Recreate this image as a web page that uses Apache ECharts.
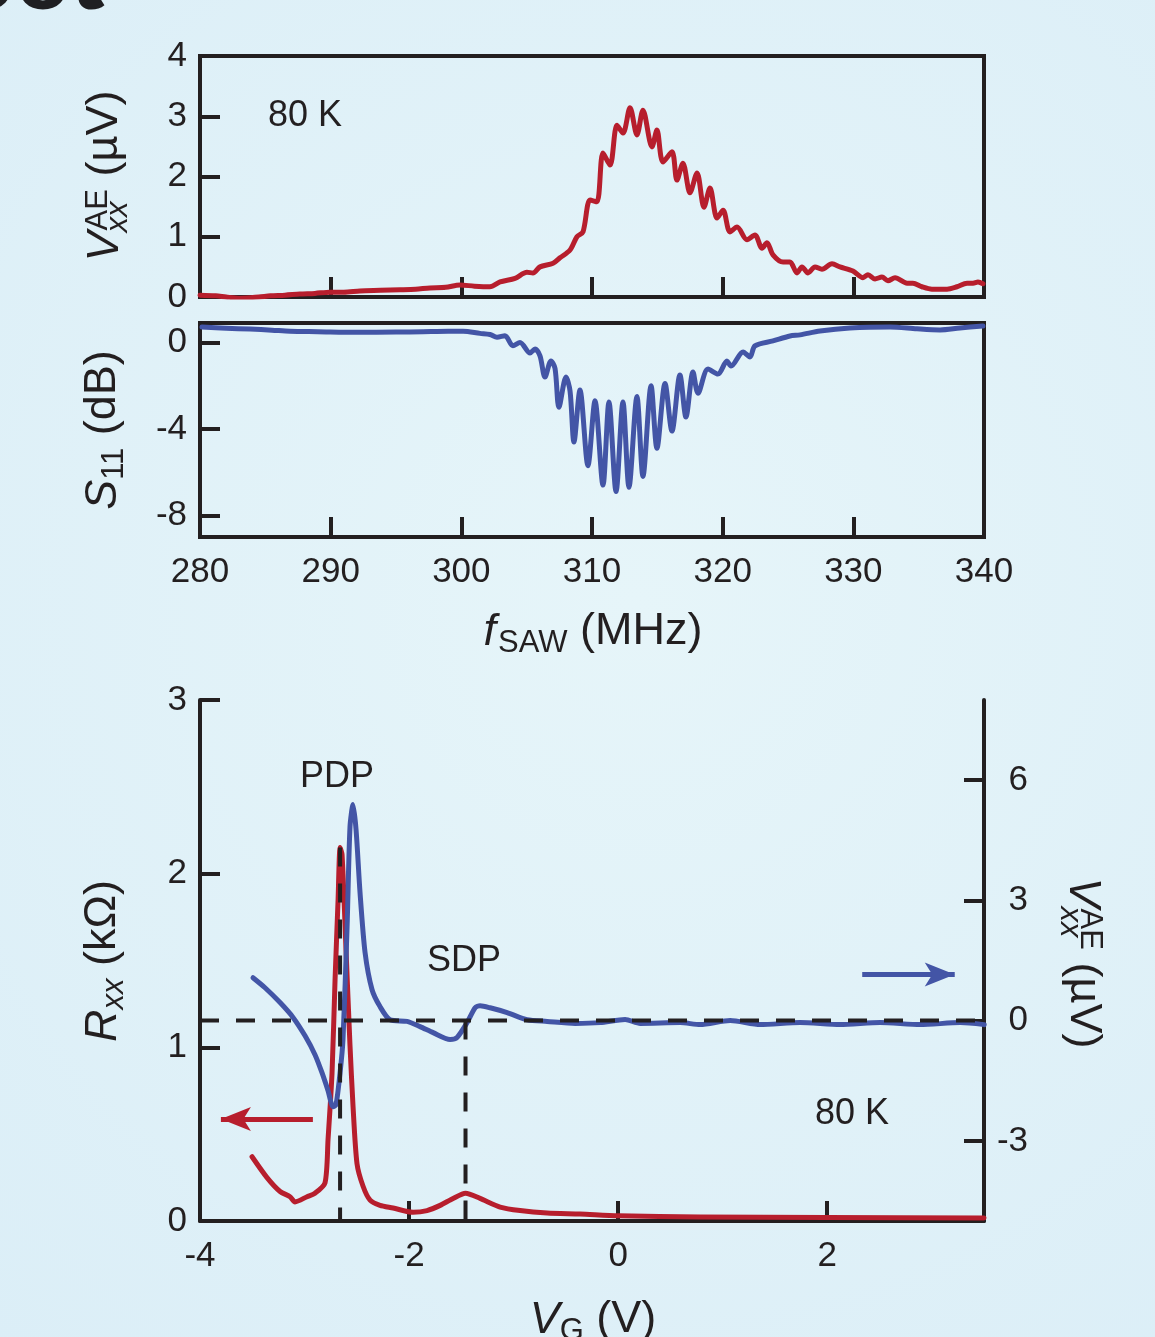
<!DOCTYPE html>
<html>
<head>
<meta charset="utf-8">
<script src="https://cdn.jsdelivr.net/npm/echarts@6/dist/echarts.min.js"></script>
<style>
  html, body { margin: 0; padding: 0; background: #e1f1f8; }
  #chart { width: 1155px; height: 1337px; }
</style>
</head>
<body>
<div id="chart"></div>
<script>
// ---- SAW frequency sweep at 80 K ----
const topFreq = [280.00, 281.2, 282.0, 283.06, 284.5, 285.4, 286.5, 287.65, 288.8, 289.95, 291.0, 292.24, 293.8, 295.31, 296.5, 297.60, 298.8, 299.90, 301.0, 302.19, 302.96, 304.11, 305.02, 305.48, 306.02, 307.02, 307.55, 308.32, 308.85, 309.31, 309.85, 310.38, 310.84, 311.38, 311.91, 312.37, 312.91, 313.44, 313.90, 314.59, 314.97, 315.43, 316.12, 316.50, 316.96, 317.50, 318.04, 318.57, 319.03, 319.57, 320.03, 320.56, 321.10, 321.86, 322.47, 323.01, 323.39, 323.85, 324.62, 325.15, 325.69, 326.07, 326.53, 327.07, 327.60, 328.37, 328.98, 329.97, 330.74, 331.12, 331.66, 332.19, 332.65, 333.19, 334.11, 334.56, 335.25, 336.02, 337.17, 337.93, 338.70, 339.16, 339.54, 339.92];
const topVae = [0.03, 0.02, 0.00, -0.02, 0.00, 0.02, 0.03, 0.05, 0.06, 0.08, 0.08, 0.10, 0.11, 0.12, 0.13, 0.15, 0.16, 0.20, 0.18, 0.17, 0.25, 0.31, 0.41, 0.40, 0.50, 0.56, 0.65, 0.78, 1.00, 1.08, 1.61, 1.58, 2.39, 2.19, 2.85, 2.72, 3.14, 2.69, 3.10, 2.49, 2.77, 2.24, 2.41, 1.94, 2.22, 1.73, 2.06, 1.49, 1.81, 1.31, 1.44, 1.08, 1.16, 0.95, 1.03, 0.81, 0.90, 0.70, 0.58, 0.58, 0.40, 0.50, 0.40, 0.50, 0.46, 0.55, 0.50, 0.43, 0.32, 0.37, 0.30, 0.33, 0.27, 0.32, 0.23, 0.23, 0.17, 0.13, 0.13, 0.17, 0.23, 0.23, 0.25, 0.22];

const midFreq = [280.15, 282.0, 283.83, 285.5, 286.89, 289.0, 292.02, 295.0, 297.07, 299.0, 300.13, 301.43, 302.19, 302.73, 303.34, 303.95, 304.49, 305.26, 305.64, 306.02, 306.40, 306.86, 307.17, 307.47, 308.01, 308.32, 308.62, 309.08, 309.69, 310.23, 310.84, 311.30, 311.84, 312.37, 312.83, 313.44, 313.90, 314.52, 314.97, 315.59, 316.12, 316.73, 317.19, 317.73, 318.11, 318.88, 319.64, 320.33, 320.64, 321.56, 322.09, 322.47, 323.85, 325.15, 325.92, 327.45, 329.74, 332.81, 334.87, 336.63, 338.16, 339.92];
const midS11 = [0.72, 0.66, 0.62, 0.57, 0.52, 0.50, 0.47, 0.48, 0.50, 0.52, 0.52, 0.42, 0.37, 0.24, 0.31, -0.15, 0.00, -0.49, -0.30, -0.62, -1.60, -0.86, -1.20, -3.00, -1.60, -2.25, -4.60, -2.20, -5.70, -2.70, -6.60, -2.75, -6.90, -2.75, -6.70, -2.50, -6.20, -2.00, -4.90, -1.90, -4.10, -1.50, -3.45, -1.37, -2.35, -1.23, -1.46, -0.86, -1.09, -0.44, -0.67, -0.16, 0.07, 0.30, 0.35, 0.53, 0.67, 0.72, 0.63, 0.58, 0.67, 0.76];

// ---- gate sweep at 80 K ----
const rxxVg = [-3.502, -3.359, -3.234, -3.139, -3.091, -2.976, -2.900, -2.804, -2.775, -2.737, -2.708, -2.679, -2.660, -2.641, -2.603, -2.565, -2.536, -2.498, -2.440, -2.373, -2.278, -2.153, -1.962, -1.828, -1.703, -1.579, -1.460, -1.321, -1.129, -0.938, -0.679, -0.364, 0.0, 0.785, 2.0, 3.5];
const rxxVal = [0.37, 0.25, 0.17, 0.14, 0.11, 0.14, 0.16, 0.22, 0.47, 0.85, 1.39, 1.85, 2.15, 2.11, 1.56, 1.01, 0.66, 0.33, 0.20, 0.12, 0.09, 0.075, 0.05, 0.06, 0.09, 0.13, 0.16, 0.13, 0.08, 0.06, 0.046, 0.04, 0.03, 0.023, 0.02, 0.017];

const vaeVg = [-3.493, -3.378, -3.234, -3.110, -2.995, -2.900, -2.833, -2.775, -2.727, -2.699, -2.660, -2.632, -2.593, -2.565, -2.536, -2.507, -2.469, -2.421, -2.354, -2.278, -2.182, -2.019, -1.895, -1.770, -1.608, -1.541, -1.445, -1.368, -1.321, -1.225, -1.062, -0.871, -0.679, -0.411, -0.172, 0.067, 0.211, 0.593, 0.785, 1.072, 1.359, 1.742, 2.124, 2.507, 2.890, 3.273, 3.502];
const vaeVal = [1.07, 0.82, 0.45, 0.08, -0.38, -0.85, -1.30, -1.75, -2.15, -2.10, -1.30, -0.47, 2.34, 4.84, 5.39, 4.76, 3.19, 1.70, 0.77, 0.35, 0.02, -0.02, -0.15, -0.30, -0.47, -0.42, -0.05, 0.32, 0.37, 0.32, 0.20, 0.02, -0.02, -0.07, -0.05, 0.03, -0.07, -0.05, -0.10, 0.00, -0.10, -0.05, -0.10, -0.05, -0.10, -0.05, -0.10];

// Dirac-point markers and reference level
const pdpVg = -2.66, pdpR = 2.15;
const sdpVg = -1.46;
const vaeZero = 0;

// Axis-assignment arrows (start, tip) in data units
const rxxArrow = [[-2.92, 0.587], [-3.80, 0.587]];
const vaeArrow = [[2.335, 1.15], [3.22, 1.15]];

// Axis ticks
const freqTicks = [280, 290, 300, 310, 320, 330, 340];
const s11Ticks = [-8, -4, 0];
const vgTicks = [-4, -2, 0, 2];
const vaeRightTicks = [-3, 0, 3, 6];

const zip = (a, b) => a.map((v, i) => [v, b[i]]);

const INK = '#231f20';
const RED = '#b71e2d';
const BLUE = '#4355a6';
const FONT = '"Liberation Sans", Arial, sans-serif';
const LW = 5;     // curve width
const AW = 4;     // axis / frame width
const DASH = [19, 17];

const measureCtx = document.createElement('canvas').getContext('2d');
function textWidth(str, size, italic) {
  measureCtx.font = (italic ? 'italic ' : '') + size + 'px "Liberation Sans"';
  return measureCtx.measureText(str).width;
}
function textEl(str, x, y, size, opts) {
  opts = opts || {};
  return {
    type: 'text', x: x, y: y, z: 100,
    style: {
      text: str, fontSize: size, fontFamily: opts.family || FONT,
      fontStyle: opts.italic ? 'italic' : 'normal', fontWeight: opts.weight || 'normal',
      fill: opts.fill || INK,
      align: opts.align || 'center', textAlign: opts.align || 'center',
      verticalAlign: 'middle', textVerticalAlign: 'middle'
    }
  };
}
// Axis title built from pieces (italic symbol, sub/superscripts, unit)
function composedTitle(parts, cx, cy, rotation) {
  let x = 0;
  const kids = [];
  parts.forEach(p => {
    const items = p.stack || [p];
    let adv = 0;
    items.forEach(it => {
      const el = textEl(it.t, x + (it.dx || 0), it.dy || 0, it.size, { italic: it.italic, align: 'left' });
      kids.push(el);
      adv = Math.max(adv, textWidth(it.t, it.size, it.italic) + (it.dx || 0));
    });
    x += adv;
  });
  kids.forEach(k => { k.x -= x / 2; });
  return { type: 'group', x: cx, y: cy, rotation: rotation, children: kids };
}

const TS = 45, SS = 31;
const vaeTitle = [
  { t: 'V', size: TS, italic: true },
  { stack: [ { t: 'AE', size: SS, dy: -7, dx: 1 }, { t: 'xx', size: SS, italic: true, dy: 13, dx: -1 } ] },
  { t: ' (µV)', size: TS }
];

function tickStyle(extra) {
  return Object.assign({ show: true, inside: true, length: 20, lineStyle: { color: INK, width: AW } }, extra);
}
function labelStyle(extra) {
  return Object.assign({ color: INK, fontSize: 35, fontFamily: FONT, margin: 13 }, extra);
}
function axisBase(extra) {
  return Object.assign({
    type: 'value',
    axisLine: { show: true, onZero: false, lineStyle: { color: INK, width: AW } },
    axisTick: tickStyle(),
    axisLabel: labelStyle(),
    splitLine: { show: false }
  }, extra);
}
function arrowMark(color, pts) {
  return {
    silent: true, symbol: ['none', 'arrow'], symbolSize: [18, 30], label: { show: false },
    lineStyle: { color: color, width: LW, type: 'solid' },
    emphasis: { disabled: true },
    data: [[ { coord: pts[0] }, { coord: pts[1] } ]]
  };
}

const chart = echarts.init(document.getElementById('chart'), null, { renderer: 'canvas' });

const option = {
  backgroundColor: {
    type: 'radial', x: 0.55, y: 0.45, r: 0.85,
    colorStops: [ { offset: 0, color: '#e6f5f9' }, { offset: 1, color: '#dbeef7' } ]
  },
  animation: false,
  grid: [
    { left: 200, top: 56, width: 784, height: 241, show: true, borderColor: INK, borderWidth: AW, backgroundColor: 'transparent' },
    { left: 200, top: 323, width: 784, height: 214, show: true, borderColor: INK, borderWidth: AW, backgroundColor: 'transparent' },
    { left: 200, top: 700, width: 784, height: 521 }
  ],
  xAxis: [
    axisBase({ gridIndex: 0, min: 280, max: 340, interval: 10, axisLabel: { show: false } }),
    axisBase({ gridIndex: 1, min: 280, max: 340, interval: 10,
      axisLabel: labelStyle({ margin: 18, customValues: freqTicks }) }),
    axisBase({ gridIndex: 2, min: -4, max: 3.5, interval: 2,
      axisTick: tickStyle({ customValues: vgTicks }),
      axisLabel: labelStyle({ margin: 18, customValues: vgTicks }) })
  ],
  yAxis: [
    axisBase({ gridIndex: 0, min: 0, max: 4, interval: 1 }),
    axisBase({ gridIndex: 1, min: -9, max: 0.9,
      axisTick: tickStyle({ customValues: s11Ticks }),
      axisLabel: labelStyle({ customValues: s11Ticks }) }),
    axisBase({ gridIndex: 2, min: 0, max: 3, interval: 1, position: 'left' }),
    axisBase({ gridIndex: 2, min: -5, max: 8, position: 'right',
      axisTick: tickStyle({ customValues: vaeRightTicks }),
      axisLabel: labelStyle({ margin: 44, align: 'right', customValues: vaeRightTicks }) })
  ],
  series: [
    {
      name: 'V_AE vs f', type: 'line', xAxisIndex: 0, yAxisIndex: 0,
      data: zip(topFreq, topVae), showSymbol: false, smooth: 0.3, clip: true,
      lineStyle: { color: RED, width: LW, cap: 'round', join: 'round' }
    },
    {
      name: 'S11', type: 'line', xAxisIndex: 1, yAxisIndex: 1,
      data: zip(midFreq, midS11), showSymbol: false, smooth: 0.3, clip: true,
      lineStyle: { color: BLUE, width: LW, cap: 'round', join: 'round' }
    },
    {
      name: 'Rxx', type: 'line', xAxisIndex: 2, yAxisIndex: 2, z: 2,
      data: zip(rxxVg, rxxVal), showSymbol: false, smooth: 0.25,
      lineStyle: { color: RED, width: LW, cap: 'round', join: 'round' },
      markLine: arrowMark(RED, rxxArrow)
    },
    {
      name: 'V_AE vs VG', type: 'line', xAxisIndex: 2, yAxisIndex: 3, z: 3,
      data: zip(vaeVg, vaeVal), showSymbol: false, smooth: 0.25,
      lineStyle: { color: BLUE, width: LW, cap: 'round', join: 'round' },
      markLine: arrowMark(BLUE, vaeArrow)
    },
    {
      name: 'zero level', type: 'line', xAxisIndex: 2, yAxisIndex: 3, z: 5,
      data: [[-4, vaeZero], [3.5, vaeZero]], showSymbol: false,
      lineStyle: { color: INK, width: AW, type: DASH }
    },
    {
      name: 'PDP', type: 'line', xAxisIndex: 2, yAxisIndex: 2, z: 5,
      data: [[pdpVg, pdpR], [pdpVg, 0]], showSymbol: false,
      lineStyle: { color: INK, width: AW, type: DASH }
    },
    {
      name: 'SDP', type: 'line', xAxisIndex: 2, yAxisIndex: 3, z: 5,
      data: [[sdpVg, vaeZero], [sdpVg, -5]], showSymbol: false,
      lineStyle: { color: INK, width: AW, type: DASH }
    }
  ],
  graphic: [
    textEl('oot', -40, -22, 96, { weight: 'bold', family: 'Lato, "Open Sans", sans-serif', align: 'left', fill: '#1f1f22' }),
    composedTitle(vaeTitle, 105, 176, Math.PI / 2),
    composedTitle([
      { t: 'S', size: TS, italic: true },
      { t: '11', size: SS, dy: 11 },
      { t: ' (dB)', size: TS }
    ], 103, 430, Math.PI / 2),
    composedTitle([
      { t: 'f', size: TS, italic: true },
      { t: 'SAW', size: SS, dy: 11, dx: 2 },
      { t: ' (MHz)', size: TS }
    ], 593, 632, 0),
    composedTitle([
      { t: 'R', size: TS, italic: true },
      { t: 'xx', size: SS, italic: true, dy: 11 },
      { t: ' (kΩ)', size: TS }
    ], 103, 961, Math.PI / 2),
    composedTitle(vaeTitle, 1083, 963, -Math.PI / 2),
    composedTitle([
      { t: 'V', size: TS, italic: true },
      { t: 'G', size: SS, dy: 11 },
      { t: ' (V)', size: TS }
    ], 593, 1320, 0),
    textEl('80 K', 305, 116, 36),
    textEl('PDP', 337, 777, 36),
    textEl('SDP', 464, 961, 36),
    textEl('80 K', 852, 1114, 36)
  ]
};

chart.setOption(option);
</script>
</body>
</html>
